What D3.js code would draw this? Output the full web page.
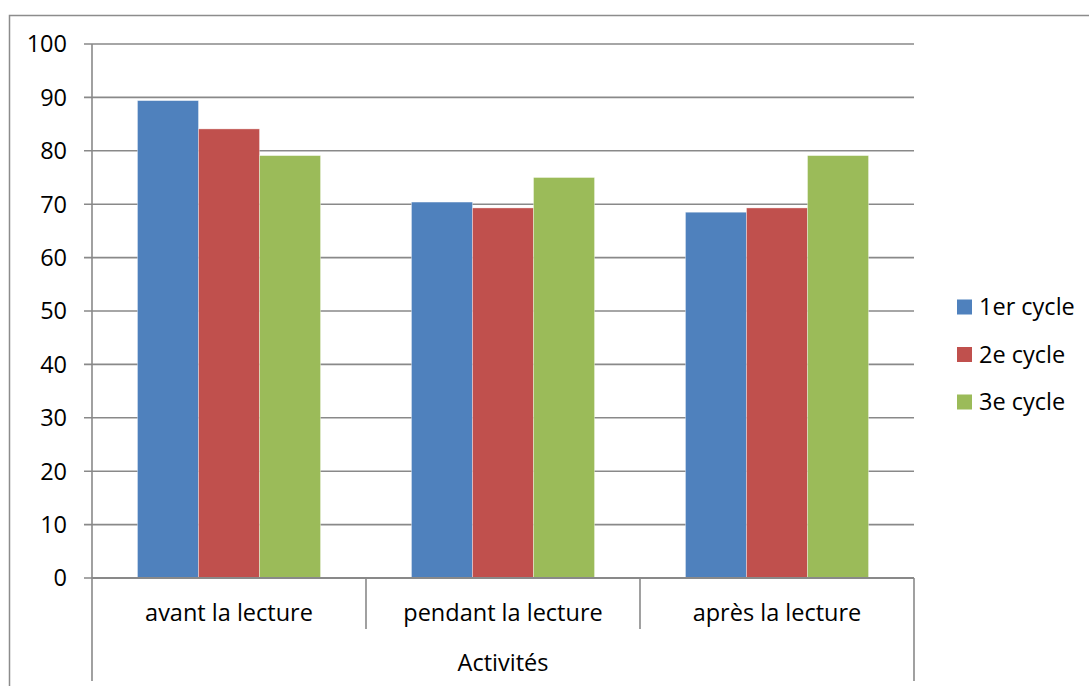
<!DOCTYPE html>
<html>
<head>
<meta charset="utf-8">
<script src="https://cdn.jsdelivr.net/npm/d3@7"></script>
<style>
    body { margin: 0; background: #fff; }
    text { font-family: "Open Sans", sans-serif; fill: #000; font-size: 23.5px; }
</style>
</head>
<body>
<div id="chart"></div>
<script>
let categories = ["avant la lecture", "pendant la lecture", "après la lecture"];
let seriesNames = ["1er cycle", "2e cycle", "3e cycle"];
let cycle1 = [89.4, 70.4, 68.5];
let cycle2 = [84.1, 69.3, 69.3];
let cycle3 = [79.1, 75.0, 79.1];
let yTicks = [0, 10, 20, 30, 40, 50, 60, 70, 80, 90, 100];
let colors = ["#4F81BD", "#C0504D", "#9BBB59"];
let axisTitle = "Activités";

let series = [cycle1, cycle2, cycle3];

let width = 1089,
    height = 686,
    plotLeft = 92,
    plotRight = 914,
    plotTop = 44,
    plotBottom = 578,
    grey = "#898989";

let svg = d3.select("#chart").append("svg")
    .attr("width", width)
    .attr("height", height);

// outer frame (cut by the picture on right and bottom)
svg.append("path")
    .attr("d", "M9.5," + height + "V15.5H" + width)
    .attr("fill", "none")
    .attr("stroke", "#8c8c8c")
    .attr("stroke-width", 1.5);

let x = d3.scaleBand().domain(categories).range([plotLeft, plotRight]);
let xInner = d3.scaleBand().domain(d3.range(series.length))
    .range([0, x.bandwidth()])
    .paddingOuter(0.745);
let y = d3.scaleLinear().domain([0, 100]).range([plotBottom, plotTop]);

// gridlines + ticks
svg.append("g").selectAll("line")
    .data(yTicks)
    .enter()
    .append("line")
    .attr("x1", plotLeft - 8)
    .attr("x2", plotRight)
    .attr("y1", function (d) { return y(d); })
    .attr("y2", function (d) { return y(d); })
    .attr("stroke", grey)
    .attr("stroke-width", 1.6);

svg.append("g").selectAll("text")
    .data(yTicks)
    .enter()
    .append("text")
    .attr("x", 67)
    .attr("y", function (d) { return y(d); })
    .attr("dy", "0.36em")
    .attr("text-anchor", "end")
    .text(function (d) { return d; });

// bars
series.forEach(function (vals, s) {
    svg.append("g").selectAll("rect")
        .data(vals)
        .enter()
        .append("rect")
        .attr("x", function (d, i) { return x(categories[i]) + xInner(s); })
        .attr("width", xInner.bandwidth())
        .attr("y", function (d) { return y(d); })
        .attr("height", function (d) { return y(0) - y(d); })
        .attr("fill", colors[s])
        .attr("stroke", "#fff")
        .attr("stroke-opacity", 0.45)
        .attr("stroke-width", 0.8);
});

// axes lines
svg.append("line")
    .attr("x1", plotLeft).attr("x2", plotLeft)
    .attr("y1", plotTop).attr("y2", 681)
    .attr("stroke", grey).attr("stroke-width", 1.6);
svg.append("line")
    .attr("x1", plotRight).attr("x2", plotRight)
    .attr("y1", plotBottom).attr("y2", 681)
    .attr("stroke", grey).attr("stroke-width", 1.6);
svg.append("line")
    .attr("x1", plotLeft).attr("x2", plotRight)
    .attr("y1", plotBottom).attr("y2", plotBottom)
    .attr("stroke", grey).attr("stroke-width", 2);

// category dividers
svg.append("g").selectAll("line")
    .data(categories.slice(1))
    .enter()
    .append("line")
    .attr("x1", function (d) { return x(d); })
    .attr("x2", function (d) { return x(d); })
    .attr("y1", plotBottom)
    .attr("y2", 629)
    .attr("stroke", grey)
    .attr("stroke-width", 1.6);

svg.append("g").selectAll("text")
    .data(categories)
    .enter()
    .append("text")
    .attr("x", function (d) { return x(d) + x.bandwidth() / 2; })
    .attr("y", 621)
    .attr("text-anchor", "middle")
    .text(function (d) { return d; });

svg.append("text")
    .attr("x", (plotLeft + plotRight) / 2)
    .attr("y", 671)
    .attr("text-anchor", "middle")
    .text(axisTitle);

// legend
let legend = svg.append("g").selectAll("g")
    .data(seriesNames)
    .enter()
    .append("g")
    .attr("transform", function (d, i) {
        return "translate(957," + (307 + i * 47.5) + ")";
    });

legend.append("rect")
    .attr("x", 0)
    .attr("y", -7.5)
    .attr("width", 15)
    .attr("height", 15)
    .attr("fill", function (d, i) { return colors[i]; });

legend.append("text")
    .attr("x", 22)
    .attr("dy", "0.36em")
    .text(function (d) { return d; });
</script>
</body>
</html>
